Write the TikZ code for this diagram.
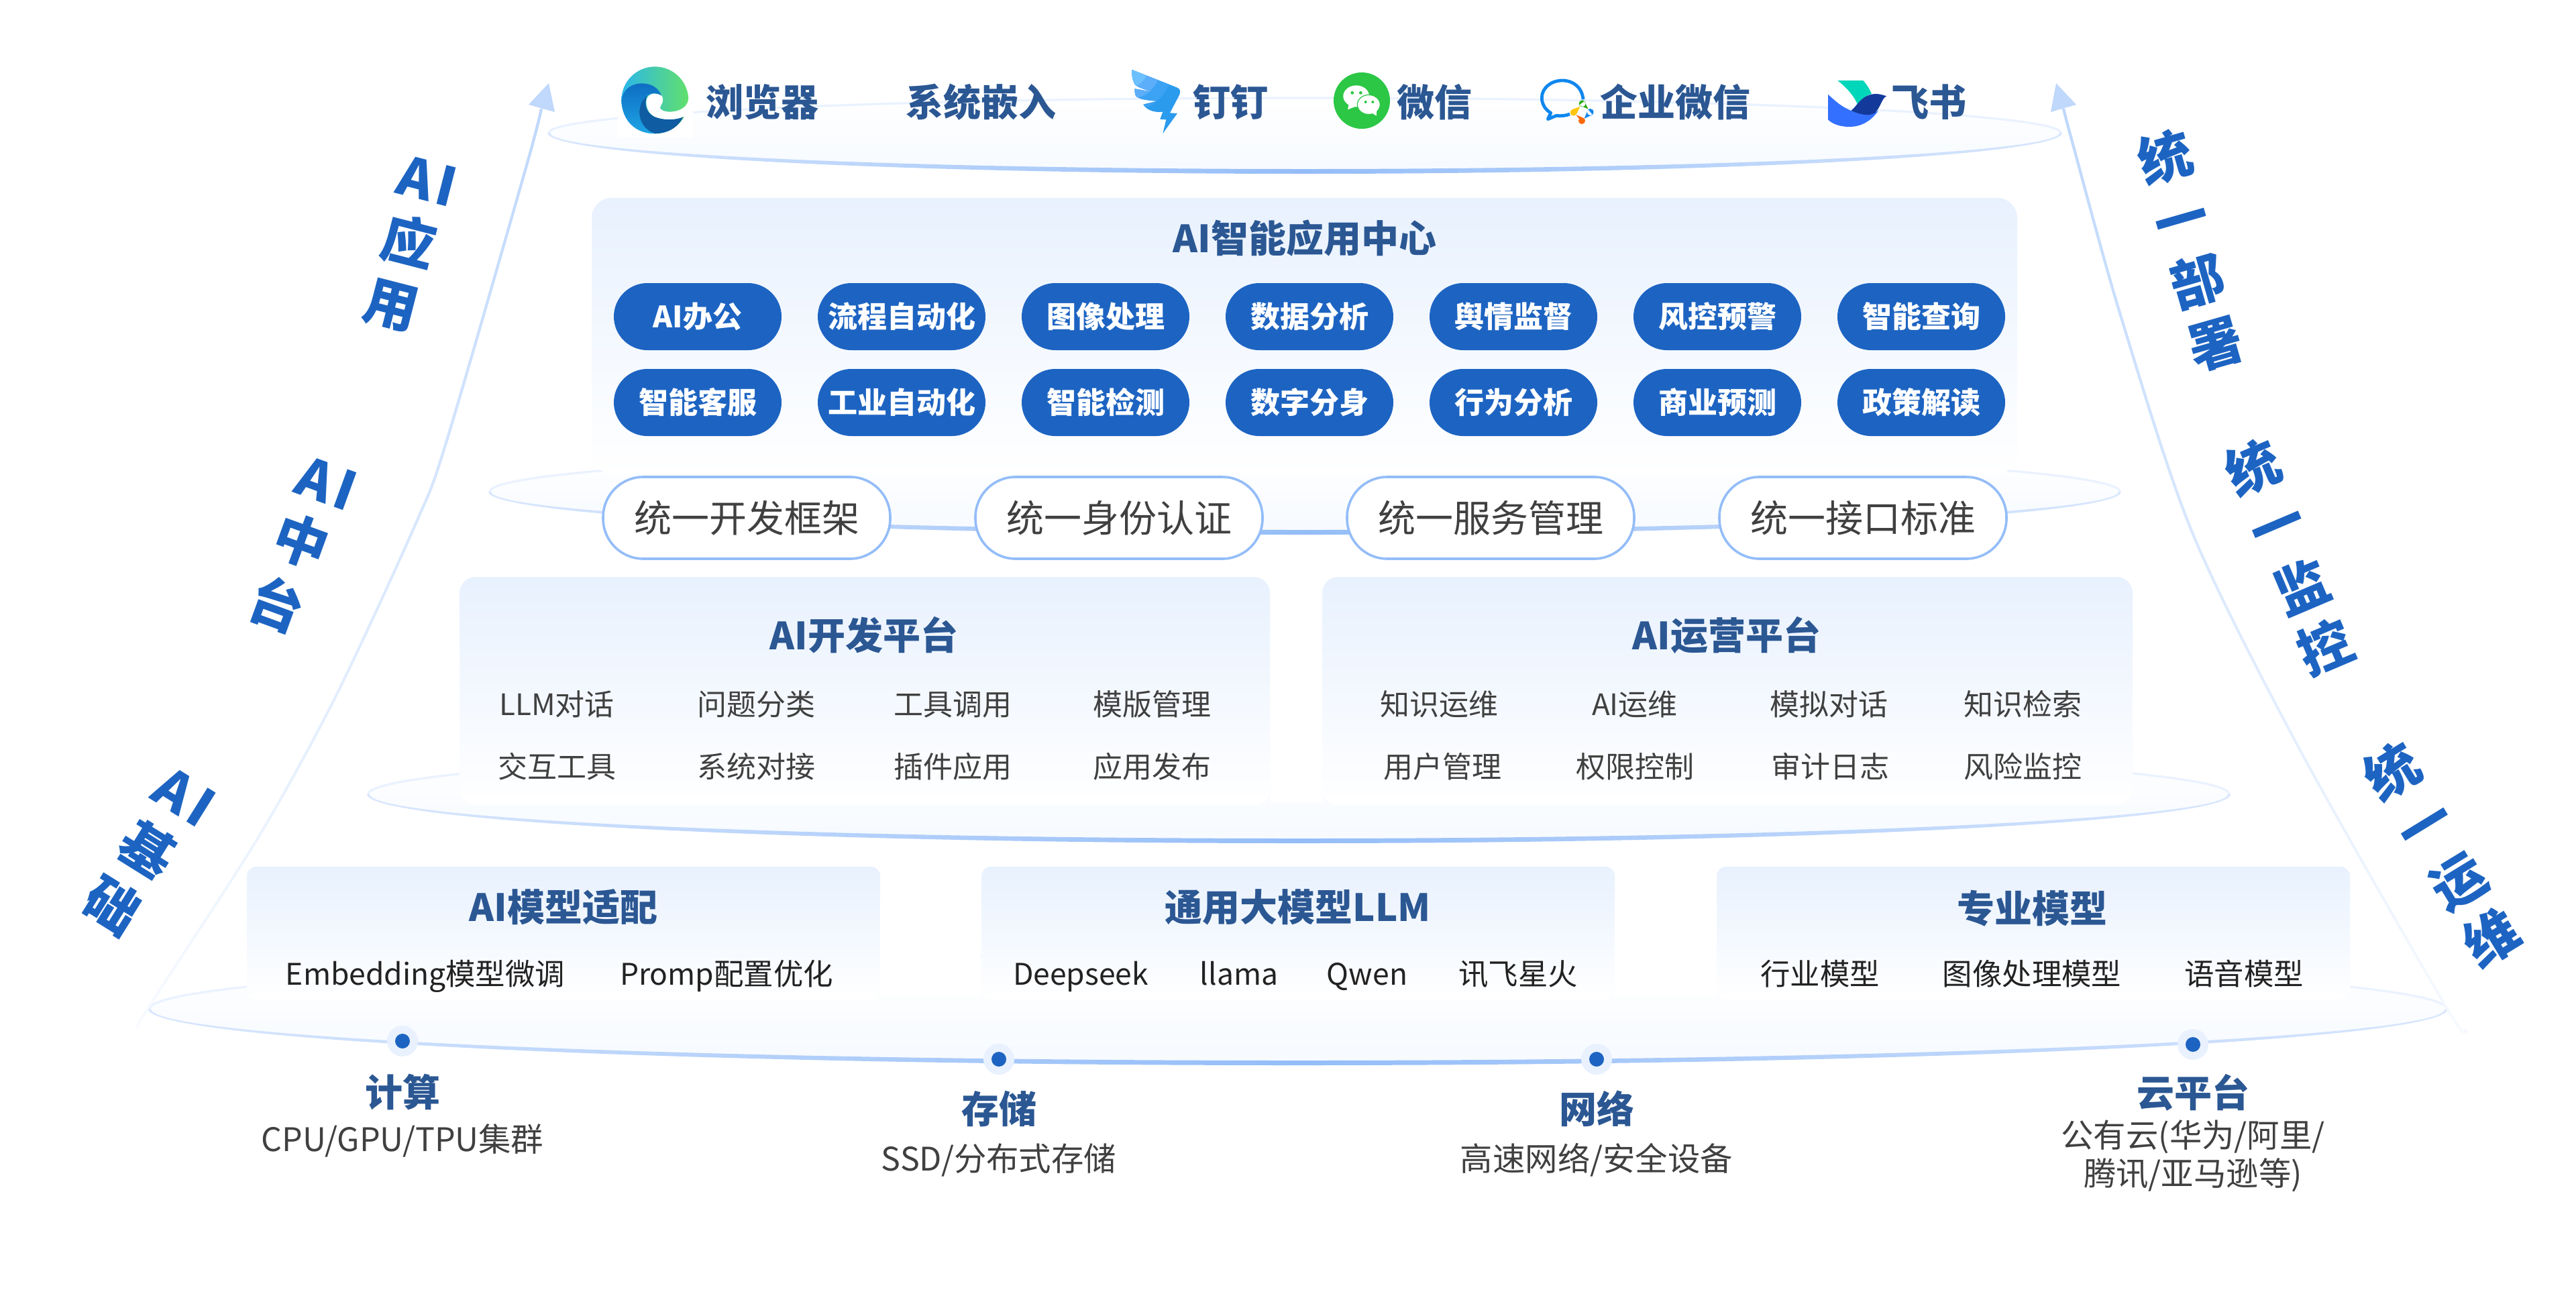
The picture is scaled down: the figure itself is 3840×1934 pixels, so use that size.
\documentclass[tikz,border=0pt]{standalone}
\usepackage{fontspec}
\setmainfont{Noto Sans CJK SC}
\usetikzlibrary{arrows.meta}
\definecolor{navy}{HTML}{2B5793}
\definecolor{txtgray}{HTML}{404040}
\definecolor{txtdark}{HTML}{222222}
\definecolor{mainblue}{HTML}{1D64C2}
\definecolor{boxtop}{HTML}{E8F1FE}
\definecolor{pillline}{HTML}{94BDF8}
\definecolor{ringtop}{HTML}{EAF2FF}
\definecolor{ringside}{HTML}{D9E7FD}
\definecolor{ringmain}{HTML}{94BDF8}
\definecolor{ringfill}{HTML}{F6FAFF}
\definecolor{arrowblue}{HTML}{BFD8FC}
\definecolor{halo}{HTML}{E9F1FE}
\definecolor{edgeA}{HTML}{2BB6EA}
\definecolor{edgeB}{HTML}{62E06C}
\definecolor{edgeC}{HTML}{0E6EC3}
\definecolor{edgeD}{HTML}{1EA5E6}
\definecolor{edgeE}{HTML}{0F5CA3}
\definecolor{dtA}{HTML}{2B9BEE}
\definecolor{dtB}{HTML}{3CA2F3}
\definecolor{dtC}{HTML}{5CAEFA}
\definecolor{dtD}{HTML}{6CC0FF}
\definecolor{wxgreen}{HTML}{2BC745}
\definecolor{wcG}{HTML}{2CAA14}
\definecolor{wcY}{HTML}{FFC50C}
\definecolor{wcO}{HTML}{FA690A}
\definecolor{wcB}{HTML}{0F87EE}
\definecolor{fsA}{HTML}{00D6B9}
\definecolor{fsB}{HTML}{3370FF}
\definecolor{fsC}{HTML}{133A9A}
\newcommand{\fsz}[1]{\fontsize{#1}{#1}\selectfont}
% cx cy rx rytop rybot thick
\newcommand{\ringshape}[6]{%
  \begin{scope}[shift={(#1,#2)}]
    \shade[top color=white,bottom color=ringfill]
      (-#3,0) .. controls (-#3,{.5523*#5}) and ({-.5523*#3},#5) .. (0,#5)
      .. controls ({.5523*#3},#5) and (#3,{.5523*#5}) .. (#3,0)
      .. controls (#3,{-.5523*#4}) and ({.5523*#3},-#4) .. (0,-#4)
      .. controls ({-.5523*#3},-#4) and (-#3,{-.5523*#4}) .. (-#3,0) -- cycle;
    \draw[ringtop,line width=1.6pt]
      (#3,0) .. controls (#3,{-.5523*#4}) and ({.5523*#3},-#4) .. (0,-#4)
      .. controls ({-.5523*#3},-#4) and (-#3,{-.5523*#4}) .. (-#3,0);
    \shade[left color=ringside,right color=ringside,middle color=ringmain]
      ({-#3-2},0) .. controls ({-#3-2},{.5523*(#5+1)}) and ({-.5523*#3},{#5+1}) .. (0,{#5+1})
      .. controls ({.5523*#3},{#5+1}) and ({#3+2},{.5523*(#5+1)}) .. ({#3+2},0)
      -- ({#3-2},0) .. controls ({#3-2},{.5523*(#5-#6)}) and ({.5523*#3},{#5-#6}) .. (0,{#5-#6})
      .. controls ({-.5523*#3},{#5-#6}) and ({-#3+2},{.5523*(#5-#6)}) .. ({-#3+2},0) -- cycle;
  \end{scope}}
\tikzset{
  x=0.5pt,y=-0.5pt,
  lbl/.style={inner sep=0pt,outer sep=0pt,align=center},
  sz28/.style={text height=24.64pt,text depth=3.36pt},
  sz22/.style={text height=19.36pt,text depth=2.64pt},
  sz24/.style={text height=21.12pt,text depth=2.88pt},
  sz40/.style={text height=35.2pt,text depth=4.8pt},
  toplabel/.style={lbl,sz28,font=\fsz{28}\bfseries,text=navy},
  hdr/.style={lbl,sz28,font=\fsz{28}\bfseries,text=navy},
  cell/.style={lbl,sz22,font=\fsz{22},text=txtgray},
  mcell/.style={lbl,sz22,font=\fsz{22.2},text=txtdark},
  sub/.style={lbl,sz24,font=\fsz{24.2},text=txtgray},
  sidech/.style={lbl,sz40,font=\fsz{40}\bfseries,text=mainblue},
  arrowstroke/.style={top color=arrowblue,middle color=arrowblue!85!white,bottom color=arrowblue!12!white},
  box/.style={shape=rectangle,inner sep=0pt,outer sep=0pt,top color=boxtop,bottom color=white,draw=none},
  bluepill/.style={shape=rectangle,rounded corners=25pt,minimum width=125pt,minimum height=50pt,inner sep=0pt,fill=mainblue,text=white,font=\fsz{22}\bfseries,sz22},
  whitepill/.style={shape=rectangle,rounded corners=30pt,minimum width=214pt,minimum height=61pt,inner sep=0pt,fill=white,draw=pillline,line width=1.8pt,text=txtgray,font=\fsz{28},sz28},
  dotmark/.style={shape=circle,fill=mainblue,inner sep=0pt,minimum size=11pt},
  halomark/.style={shape=circle,fill=halo,inner sep=0pt,minimum size=23pt},
  logo/.style={x=0.16667pt,y=-0.16667pt},
}
\begin{document}
\begin{tikzpicture}
\useasboundingbox (0,0) rectangle (3840,1934);
\fill[white] (0,0) rectangle (3840,1934);

% rings
\ringshape{1945}{198}{1127}{52}{60}{6}
\ringshape{1945}{733}{1215}{62}{63}{6}
\ringshape{1936}{1184}{1387}{70}{72}{6}
\ringshape{1935}{1504}{1712}{82}{83}{6}

% side arrows: named way-points, shaded stroke, arrow head
\coordinate (la0) at (205,1531); \coordinate (la1) at (223,1499); \coordinate (la2) at (384,1250);
\coordinate (la3) at (500,1039); \coordinate (la4) at (620,780); \coordinate (la5) at (665,660);
\coordinate (la6) at (784,250); \coordinate (la7) at (807,162);
\coordinate (ra0) at (3675,1534); \coordinate (ra1) at (3648,1504); \coordinate (ra2) at (3428,1117);
\coordinate (ra3) at (3268,794); \coordinate (ra4) at (3161,470); \coordinate (ra5) at (3090,215);
\coordinate (ra6) at (3076,162);
\shade[arrowstroke]
  plot[smooth] coordinates {([xshift=-1.1pt]la7) ([xshift=-1.1pt]la6) ([xshift=-1.1pt]la5) ([xshift=-1.1pt]la4) ([xshift=-1.1pt]la3) ([xshift=-1.1pt]la2) ([xshift=-1.1pt]la1) ([xshift=-1.1pt]la0)}
  -- plot[smooth] coordinates {([xshift=1.1pt]la0) ([xshift=1.1pt]la1) ([xshift=1.1pt]la2) ([xshift=1.1pt]la3) ([xshift=1.1pt]la4) ([xshift=1.1pt]la5) ([xshift=1.1pt]la6) ([xshift=1.1pt]la7)} -- cycle;
\shade[arrowstroke]
  plot[smooth] coordinates {([xshift=-1.1pt]ra6) ([xshift=-1.1pt]ra5) ([xshift=-1.1pt]ra4) ([xshift=-1.1pt]ra3) ([xshift=-1.1pt]ra2) ([xshift=-1.1pt]ra1) ([xshift=-1.1pt]ra0)}
  -- plot[smooth] coordinates {([xshift=1.1pt]ra0) ([xshift=1.1pt]ra1) ([xshift=1.1pt]ra2) ([xshift=1.1pt]ra3) ([xshift=1.1pt]ra4) ([xshift=1.1pt]ra5) ([xshift=1.1pt]ra6)} -- cycle;
\fill[arrowblue] (818,124) -- (788,156) -- (827,167) -- cycle;
\fill[arrowblue] (3065,124) -- (3057,167) -- (3095,156) -- cycle;

% panels
\node[box,rounded corners=15pt,minimum width=1062.5pt,minimum height=205.5pt] (mainbox) at (1944.5,500.5) {};
\fill[white] (1893,860) rectangle (1971,1196);
\fill[white] (1312,1292) rectangle (1462,1486);
\fill[white] (2407,1292) rectangle (2559,1486);
\node[box,rounded corners=12pt,minimum width=604pt,minimum height=170pt] (devbox) at (1289,1030) {};
\node[box,rounded corners=12pt,minimum width=604pt,minimum height=170pt] (opsbox) at (2575,1030) {};
\node[box,rounded corners=7pt,minimum width=472pt,minimum height=99pt] (mbox1) at (840,1391) {};
\node[box,rounded corners=7pt,minimum width=472pt,minimum height=99pt] (mbox2) at (1935,1391) {};
\node[box,rounded corners=7pt,minimum width=472pt,minimum height=99pt] (mbox3) at (3031,1391) {};

% top row text
\node[toplabel] (t1) at (1136,152) {浏览器};
\node[toplabel] (t2) at (1462,152) {系统嵌入};
\node[toplabel] (t3) at (1834,152) {钉钉};
\node[toplabel] (t4) at (2138,152) {微信};
\node[toplabel] (t5) at (2497,152) {企业微信};
\node[toplabel] (t6) at (2875,152) {飞书};

% Edge logo
\begin{scope}[shift={(900,85)},logo]
  \fill[white] (62,30) rectangle (400,360);
  \shade[left color=edgeA,right color=edgeB] (229,193) circle[radius=25pt];
  \fill[white] (258,172) .. controls (225,150) and (190,170) .. (190,200)
     .. controls (190,245) and (220,268) .. (240,272)
     .. controls (280,285) and (330,280) .. (355,268)
     -- (395,268) -- (395,180) -- (378,190)
     .. controls (375,225) and (335,245) .. (295,245)
     .. controls (270,245) and (250,235) .. (252,225)
     .. controls (255,215) and (275,195) .. (258,172) -- cycle;
  \shade[top color=edgeC,bottom color=edgeD]
     (80,195) .. controls (85,140) and (130,118) .. (170,118)
     .. controls (215,118) and (245,140) .. (258,172)
     .. controls (220,150) and (175,165) .. (160,235)
     .. controls (155,285) and (185,325) .. (230,342)
     .. controls (140,345) and (80,280) .. (80,195) -- cycle;
  \fill[edgeE]
     (160,235) .. controls (165,205) and (175,190) .. (195,172)
     .. controls (175,215) and (195,260) .. (240,272)
     .. controls (280,285) and (330,280) .. (355,268)
     .. controls (330,320) and (280,342) .. (230,342)
     .. controls (185,330) and (155,285) .. (160,235) -- cycle;
\end{scope}

% DingTalk logo
\begin{scope}[shift={(1670,85)},logo]
  \begin{scope}
    \clip (52,57) -- (255,137) .. controls (268,142) and (270,155) .. (265,168)
       -- (222,250) -- (255,252) -- (190,342) -- (205,280) -- (178,278) -- (190,245)
       .. controls (150,250) and (115,235) .. (103,212) -- (165,197)
       .. controls (130,195) and (85,190) .. (70,175) .. controls (65,165) and (64,150) .. (65,142) -- (155,158)
       .. controls (120,150) and (75,135) .. (65,122) .. controls (55,105) and (50,75) .. (52,57) -- cycle;
    \fill[dtA] (0,0) rectangle (300,360);
    \fill[dtB] (40,50) circle[radius=32pt];
    \fill[dtC] (40,50) circle[radius=23pt];
    \fill[dtD] (40,50) circle[radius=14pt];
  \end{scope}
\end{scope}

% WeChat logo
\begin{scope}[shift={(1670,85)},logo]
  \fill[wxgreen] (1080,195) circle[radius=21pt];
  \fill[white] (1055,175) ellipse[x radius=9.7pt,y radius=8pt];
  \fill[white] (1023,205) -- (1017,235) -- (1055,220) -- cycle;
  \filldraw[fill=white,draw=wxgreen,line width=.6pt] (1111,213) ellipse[x radius=8.5pt,y radius=7.3pt];
  \fill[white] (1125,250) -- (1145,263) -- (1147,238) -- cycle;
  \fill[wxgreen] (1037,160) circle[radius=1.2pt] (1075,160) circle[radius=1.2pt] (1097,201) circle[radius=1pt] (1129,201) circle[radius=1pt];
\end{scope}

% WeCom logo
\begin{scope}[shift={(2280,85)},logo]
  \draw[wcB,line width=2.4pt,line join=round]
    (240,190) .. controls (235,135) and (195,105) .. (147,105)
    .. controls (95,105) and (55,140) .. (55,182)
    .. controls (55,210) and (70,235) .. (95,250) -- (82,278) -- (120,262)
    .. controls (140,265) and (165,262) .. (180,255);
  \fill[wcG] (236,208) circle[radius=2.5pt] (222,215) -- (245,197) -- (263,233) -- cycle;
  \fill[wcY] (197,248) circle[radius=2.5pt] (192,234) -- (210,255) -- (226,222) -- cycle;
  \fill[wcO] (234,285) circle[radius=2.5pt] (222,277) -- (246,275) -- (208,258) -- cycle;
  \fill[wcB] (272,246) circle[radius=2.5pt] (262,234) -- (282,258) -- (245,275) -- cycle;
\end{scope}

% Feishu logo
\begin{scope}[shift={(2700,85)},logo]
  \fill[fsA] (118,105) -- (232,105)
     .. controls (250,125) and (262,145) .. (270,165)
     .. controls (245,170) and (225,190) .. (208,215)
     .. controls (190,170) and (155,135) .. (118,105) -- cycle;
  \fill[fsB] (75,167) .. controls (110,200) and (140,225) .. (178,240)
     .. controls (215,255) and (265,262) .. (300,240)
     .. controls (265,290) and (220,312) .. (170,312)
     .. controls (130,312) and (95,300) .. (75,280) -- cycle;
  \fill[fsC] (178,240) .. controls (205,220) and (225,165) .. (290,165)
     .. controls (305,165) and (322,170) .. (336,175)
     .. controls (315,185) and (310,225) .. (285,250)
     .. controls (255,268) and (215,255) .. (178,240) -- cycle;
\end{scope}

% Application centre
\node[hdr] (apptitle) at (1945,355) {AI智能应用中心};
\foreach \n/\cx/\tx in {a/1040/AI办公,b/1344/流程自动化,c/1648/图像处理,d/1952/数据分析,e/2256/舆情监督,f/2560/风控预警,g/2864/智能查询}
  \node[bluepill] (p1\n) at (\cx,472) {\tx};
\foreach \n/\cx/\tx in {a/1040/智能客服,b/1344/工业自动化,c/1648/智能检测,d/1952/数字分身,e/2256/行为分析,f/2560/商业预测,g/2864/政策解读}
  \node[bluepill] (p2\n) at (\cx,600) {\tx};

% unified pills
\node[whitepill] (u1) at (1113,772) {统一开发框架};
\node[whitepill] (u2) at (1668,772) {统一身份认证};
\node[whitepill] (u3) at (2222,772) {统一服务管理};
\node[whitepill] (u4) at (2777,772) {统一接口标准};

% platforms
\node[hdr] (dvt) at (1288,947) {AI开发平台};
\node[hdr] (opt) at (2574,947) {AI运营平台};
\foreach \n/\cx/\tx in {a/830/LLM对话,b/1127/问题分类,c/1420/工具调用,d/1717/模版管理,e/2145/知识运维,f/2437/AI运维,g/2726/模拟对话,h/3015/知识检索}
  \node[cell] (c1\n) at (\cx,1050) {\tx};
\foreach \n/\cx/\tx in {a/830/交互工具,b/1127/系统对接,c/1420/插件应用,d/1717/应用发布,e/2150/用户管理,f/2437/权限控制,g/2728/审计日志,h/3015/风险监控}
  \node[cell] (c2\n) at (\cx,1143) {\tx};

% models
\node[hdr] (mh1) at (840,1352) {AI模型适配};
\node[hdr] (mh2) at (1935,1352) {通用大模型LLM};
\node[hdr] (mh3) at (3029,1354) {专业模型};
\foreach \n/\cx/\tx in {a/634/Embedding模型微调,b/1083/Promp配置优化,c/1611/Deepseek,d/1847/llama,e/2038/Qwen,f/2263/讯飞星火,g/2713/行业模型,h/3029/图像处理模型,i/3345/语音模型}
  \node[mcell] (m\n) at (\cx,1452) {\tx};

% base dots and labels
\foreach \n/\cx/\cy in {a/600/1552,b/1489/1579,c/2380/1579,d/3269/1557}{
  \node[halomark] (h\n) at (\cx,\cy) {};
  \node[dotmark] (d\n) at (\cx,\cy) {};
}
\node[hdr] (b1) at (600,1628) {计算};
\node[sub] (s1) at (600,1698) {CPU/GPU/TPU集群};
\node[hdr] (b2) at (1489,1653) {存储};
\node[sub] (s2) at (1489,1727) {SSD/分布式存储};
\node[hdr] (b3) at (2380,1653) {网络};
\node[sub] (s3) at (2380,1727) {高速网络/安全设备};
\node[hdr] (b4) at (3269,1629) {云平台};
\node[sub] (s4) at (3269,1692) {公有云(华为/阿里/};
\node[sub] (s5) at (3269,1749) {腾讯/亚马逊等)};

% left side labels
\node[sidech,rotate=-14.4] (l11) at (637,269) {A\kern.08em I};
\node[sidech,rotate=-14.4] (l12) at (610,360) {应};
\node[sidech,rotate=-14.4] (l13) at (584,453) {用};
\node[sidech,rotate=-20] (l21) at (487,720) {A\kern.08em I};
\node[sidech,rotate=-20] (l22) at (449,807) {中};
\node[sidech,rotate=-20] (l23) at (412,902) {台};
\node[sidech,rotate=-32] (l31) at (275,1187) {A\kern.08em I};
\node[sidech,rotate=-32] (l32) at (220,1267) {基};
\node[sidech,rotate=-32] (l33) at (168,1350) {础};

% right side labels
\node[sidech,rotate=16] (r11) at (3228,234) {统};
\node[sidech,rotate=16] (r12) at (3252,327) {一};
\node[sidech,rotate=16] (r13) at (3276,419) {部};
\node[sidech,rotate=16] (r14) at (3303,512) {署};
\node[sidech,rotate=23] (r21) at (3358,697) {统};
\node[sidech,rotate=23] (r22) at (3394,783) {一};
\node[sidech,rotate=23] (r23) at (3431,875) {监};
\node[sidech,rotate=23] (r24) at (3466,965) {控};
\node[sidech,rotate=31.5] (r31) at (3566,1150) {统};
\node[sidech,rotate=31.5] (r32) at (3615,1230) {一};
\node[sidech,rotate=31.5] (r33) at (3665,1314) {运};
\node[sidech,rotate=31.5] (r34) at (3714,1398) {维};
\end{tikzpicture}
\end{document}
